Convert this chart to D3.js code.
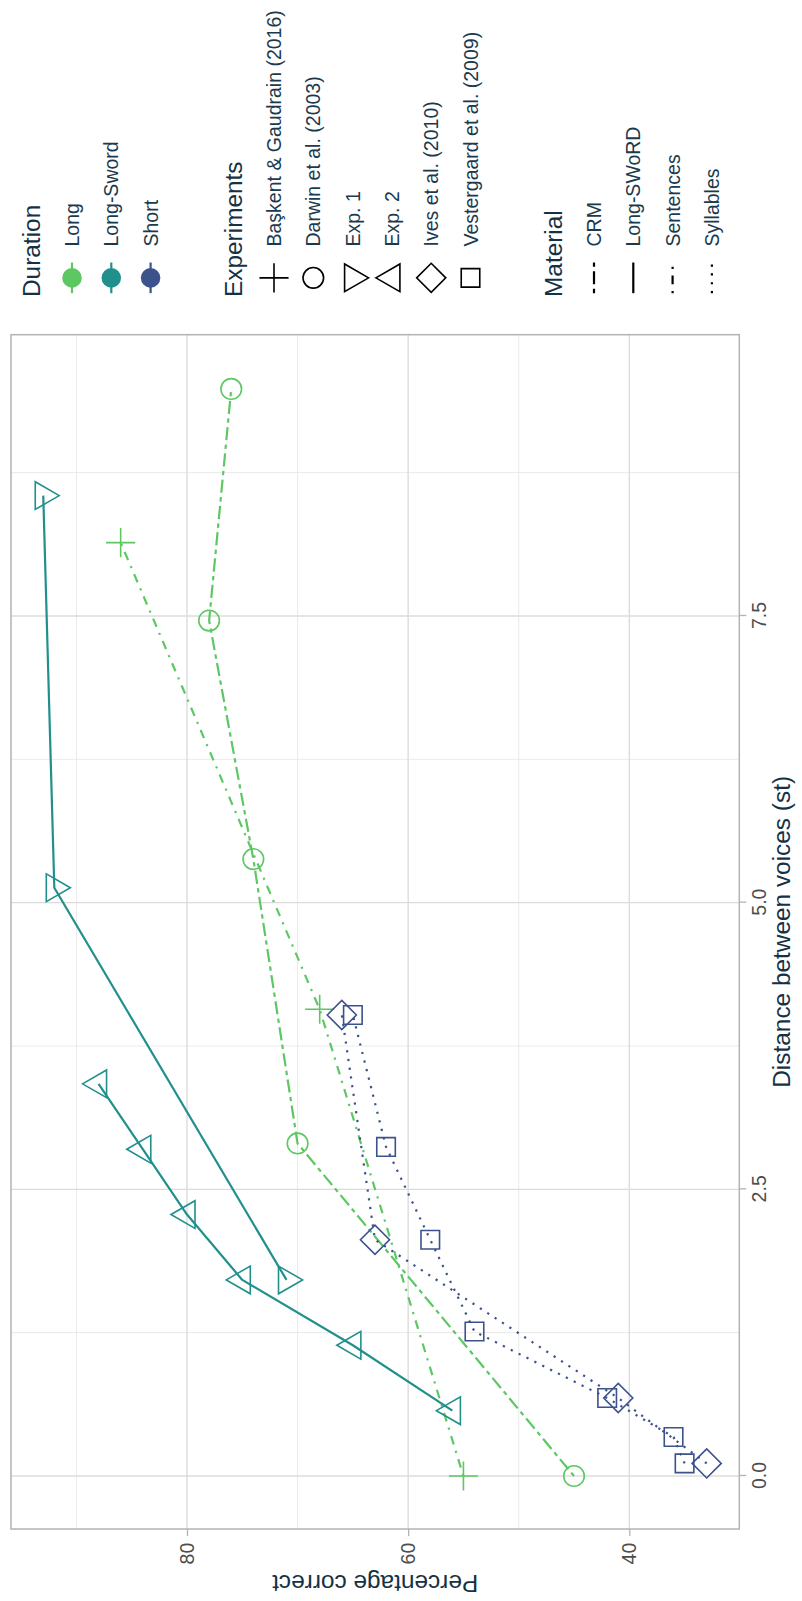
<!DOCTYPE html>
<html>
<head>
<meta charset="utf-8">
<script src="https://cdn.jsdelivr.net/npm/d3@7"></script>
<style>
  html, body { margin: 0; padding: 0; background: #ffffff; }
  svg { display: block; }
  text { font-family: "Liberation Sans", Arial, Helvetica, sans-serif; }
</style>
</head>
<body>
<svg id="chart" width="802" height="1601"></svg>
<script>
// ---------------- DATA ----------------
const distTicks = [0, 2.5, 5, 7.5];
const distMinor = [1.25, 3.75, 6.25, 8.75];
const pctTicks = [40, 60, 80];
const pctMinor = [50, 70, 90];

const durations = ["Long", "Long-Sword", "Short"];
const durationColors = ["#5DC863", "#21908C", "#3B528B"];

const experiments = ["Başkent & Gaudrain (2016)", "Darwin et al. (2003)", "Exp. 1", "Exp. 2", "Ives et al. (2010)", "Vestergaard et al. (2009)"];
const experimentShapes = ["plus", "circle", "tridown", "triup", "diamond", "square"];

const materials = ["CRM", "Long-SWoRD", "Sentences", "Syllables"];
const materialDash = ["twodash", "solid", "dotdash", "dotted"];

// series (distance in semitones, percentage correct)
const baskentDist = [0, 4.07, 8.14];
const baskentPct  = [55, 68, 86];
const darwinDist  = [0, 2.90, 5.38, 7.46, 9.48];
const darwinPct   = [45, 70, 74, 78, 76];
const exp1Dist    = [1.71, 5.13, 8.55];
const exp1Pct     = [71, 92, 93];
const exp2Dist    = [0.57, 1.14, 1.71, 2.28, 2.85, 3.42];
const exp2Pct     = [56, 65, 75, 80, 84, 88];
const ivesDist    = [0.11, 0.68, 2.06, 4.02];
const ivesPct     = [33, 41, 63, 66];
const vesterDist  = [0.11, 0.34, 0.68, 1.26, 2.06, 2.87, 4.02];
const vesterPct   = [35, 36, 42, 54, 58, 62, 65];

const seriesList = [
  { exp: experiments[0], duration: "Long",       material: "Sentences",  dist: baskentDist, pct: baskentPct },
  { exp: experiments[1], duration: "Long",       material: "CRM",        dist: darwinDist,  pct: darwinPct },
  { exp: experiments[2], duration: "Long-Sword", material: "Long-SWoRD", dist: exp1Dist,    pct: exp1Pct },
  { exp: experiments[3], duration: "Long-Sword", material: "Long-SWoRD", dist: exp2Dist,    pct: exp2Pct },
  { exp: experiments[4], duration: "Short",      material: "Syllables",  dist: ivesDist,    pct: ivesPct },
  { exp: experiments[5], duration: "Short",      material: "Syllables",  dist: vesterDist,  pct: vesterPct }
];

// ---------------- STYLE ----------------
const FONT_TICK = 19.5, FONT_TITLE = 24.4, FONT_LEG = 19.5;
const TITLE_COL = "#143246", LABEL_COL = "#1a3a4e", TICK_COL = "#4d4d4d";
const LW = 2.2, SHAPE_SW = 1.6, RAD = 10.3;
const dashFor = {
  solid: null,
  twodash: [2, 2, 6, 2].map(v => v * LW).join(","),
  dotdash: [1, 3, 4, 3].map(v => v * LW).join(","),
  dotted: [1, 3].map(v => v * LW).join(",")
};
const colorScale = d3.scaleOrdinal().domain(durations).range(durationColors);
const shapeScale = d3.scaleOrdinal().domain(experiments).range(experimentShapes);
const dashScale = d3.scaleOrdinal().domain(materials).range(materialDash);

// The whole figure is drawn landscape (1601 x 802) and rotated -90deg.
const svg = d3.select("#chart");
svg.append("rect").attr("width", 802).attr("height", 1601).attr("fill", "#fff");
const g = svg.append("g").attr("transform", "translate(0,1601) rotate(-90)");

const panel = { x0: 72, x1: 1266.3, y0: 11, y1: 739.3 };
const xS = d3.scaleLinear().domain([0, 7.5]).range([125, 985]);
const yS = d3.scaleLinear().domain([40, 80]).range([629.3, 187]);

// panel background + grid
g.append("rect").attr("x", panel.x0).attr("y", panel.y0)
  .attr("width", panel.x1 - panel.x0).attr("height", panel.y1 - panel.y0).attr("fill", "#fff");

const grid = g.append("g");
grid.selectAll(".vminor").data(distMinor).join("line")
  .attr("x1", d => xS(d)).attr("x2", d => xS(d)).attr("y1", panel.y0).attr("y2", panel.y1)
  .attr("stroke", "#e4e4e4").attr("stroke-width", 0.8);
grid.selectAll(".hminor").data(pctMinor).join("line")
  .attr("y1", d => yS(d)).attr("y2", d => yS(d)).attr("x1", panel.x0).attr("x2", panel.x1)
  .attr("stroke", "#e4e4e4").attr("stroke-width", 0.8);
grid.selectAll(".vmajor").data(distTicks).join("line")
  .attr("x1", d => xS(d)).attr("x2", d => xS(d)).attr("y1", panel.y0).attr("y2", panel.y1)
  .attr("stroke", "#dcdcdc").attr("stroke-width", 1.4);
grid.selectAll(".hmajor").data(pctTicks).join("line")
  .attr("y1", d => yS(d)).attr("y2", d => yS(d)).attr("x1", panel.x0).attr("x2", panel.x1)
  .attr("stroke", "#dcdcdc").attr("stroke-width", 1.4);

// ---------------- DATA MARKS ----------------
const line = d3.line().x(d => xS(d[0])).y(d => yS(d[1]));
const marks = g.append("g");
seriesList.forEach(s => {
  const pts = s.dist.map((d, i) => [d, s.pct[i]]).sort((a, b) => a[0] - b[0]);
  const dash = dashFor[dashScale(s.material)];
  marks.append("path").attr("d", line(pts))
    .attr("fill", "none").attr("stroke", colorScale(s.duration))
    .attr("stroke-width", LW).attr("stroke-linecap", "butt").attr("stroke-linejoin", "round")
    .attr("stroke-dasharray", dash);
});

function shapePath(type, R) {
  const p = d3.path();
  if (type === "circle") { p.arc(0, 0, R, 0, 2 * Math.PI); p.closePath(); }
  else if (type === "square") { const h = R * 0.9; p.rect(-h, -h, 2 * h, 2 * h); }
  else if (type === "diamond") { const h = R * 1.414; p.moveTo(0, -h); p.lineTo(h, 0); p.lineTo(0, h); p.lineTo(-h, 0); p.closePath(); }
  else if (type === "plus") { const h = R * 1.414; p.moveTo(-h, 0); p.lineTo(h, 0); p.moveTo(0, -h); p.lineTo(0, h); }
  else if (type === "triup") { p.moveTo(0, -1.555 * R); p.lineTo(1.3468 * R, 0.7776 * R); p.lineTo(-1.3468 * R, 0.7776 * R); p.closePath(); }
  else if (type === "tridown") { p.moveTo(0, 1.555 * R); p.lineTo(1.3468 * R, -0.7776 * R); p.lineTo(-1.3468 * R, -0.7776 * R); p.closePath(); }
  return p.toString();
}

seriesList.forEach(s => {
  const pts = s.dist.map((d, i) => [d, s.pct[i]]);
  marks.append("g").selectAll("path").data(pts).join("path")
    .attr("transform", d => `translate(${xS(d[0])},${yS(d[1])})`)
    .attr("d", shapePath(shapeScale(s.exp), RAD))
    .attr("fill", "none").attr("stroke", colorScale(s.duration)).attr("stroke-width", SHAPE_SW);
});

// panel border
g.append("rect").attr("x", panel.x0).attr("y", panel.y0)
  .attr("width", panel.x1 - panel.x0).attr("height", panel.y1 - panel.y0)
  .attr("fill", "none").attr("stroke", "#b3b3b3").attr("stroke-width", 1.5);

// ---------------- AXES ----------------
const xAxis = g.append("g").attr("transform", `translate(0,${panel.y1})`)
  .call(d3.axisBottom(xS).tickValues(distTicks).tickFormat(d3.format(".1f")).tickSize(7).tickPadding(5.5));
const yAxis = g.append("g").attr("transform", `translate(${panel.x0},0)`)
  .call(d3.axisLeft(yS).tickValues(pctTicks).tickFormat(d3.format("d")).tickSize(7).tickPadding(6.7));
[xAxis, yAxis].forEach(a => {
  a.select(".domain").remove();
  a.selectAll(".tick line").attr("stroke", "#b3b3b3").attr("stroke-width", 1.3);
  a.selectAll(".tick text").attr("fill", TICK_COL).style("font-size", FONT_TICK + "px")
    .style("font-family", "'Liberation Sans', Arial, sans-serif");
});

g.append("text").attr("x", (panel.x0 + panel.x1) / 2).attr("y", 790)
  .attr("text-anchor", "middle").attr("fill", TITLE_COL).style("font-size", FONT_TITLE + "px")
  .text("Distance between voices (st)");
g.append("text").attr("transform", `translate(26,${(panel.y0 + panel.y1) / 2}) rotate(-90)`)
  .attr("text-anchor", "middle").attr("fill", TITLE_COL).style("font-size", FONT_TITLE + "px")
  .text("Percentage correct");

// ---------------- LEGENDS ----------------
const LEG_X = 1304, KEY_W = 38.3, KEY_STEP = 39.3;
const keyCx = LEG_X + KEY_W / 2;
const labelX = LEG_X + KEY_W + 12.2;
const leg = g.append("g");

function legendBlock(title, baseY, labels, drawKey) {
  leg.append("text").attr("x", LEG_X).attr("y", baseY).attr("fill", TITLE_COL)
    .style("font-size", FONT_TITLE + "px").text(title);
  labels.forEach((lab, i) => {
    const cy = baseY + 32 + i * KEY_STEP;
    const kg = leg.append("g").attr("transform", `translate(${keyCx},${cy})`);
    drawKey(kg, i);
    leg.append("text").attr("x", labelX).attr("y", cy).attr("dy", "0.36em")
      .attr("fill", LABEL_COL).style("font-size", FONT_LEG + "px").text(lab);
  });
}

legendBlock("Duration", 40, durations, (kg, i) => {
  kg.append("line").attr("x1", -KEY_W * 0.4).attr("x2", KEY_W * 0.4)
    .attr("stroke", durationColors[i]).attr("stroke-width", LW);
  kg.append("circle").attr("r", RAD * 0.95).attr("fill", durationColors[i]);
});
legendBlock("Experiments", 242, experiments, (kg, i) => {
  kg.append("path").attr("d", shapePath(experimentShapes[i], RAD))
    .attr("fill", "none").attr("stroke", "#000").attr("stroke-width", SHAPE_SW);
});
legendBlock("Material", 562, materials, (kg, i) => {
  kg.append("line").attr("x1", -KEY_W * 0.4).attr("x2", KEY_W * 0.4)
    .attr("stroke", "#000").attr("stroke-width", LW).attr("stroke-linecap", "butt")
    .attr("stroke-dasharray", dashFor[materialDash[i]]);
});
</script>
</body>
</html>
